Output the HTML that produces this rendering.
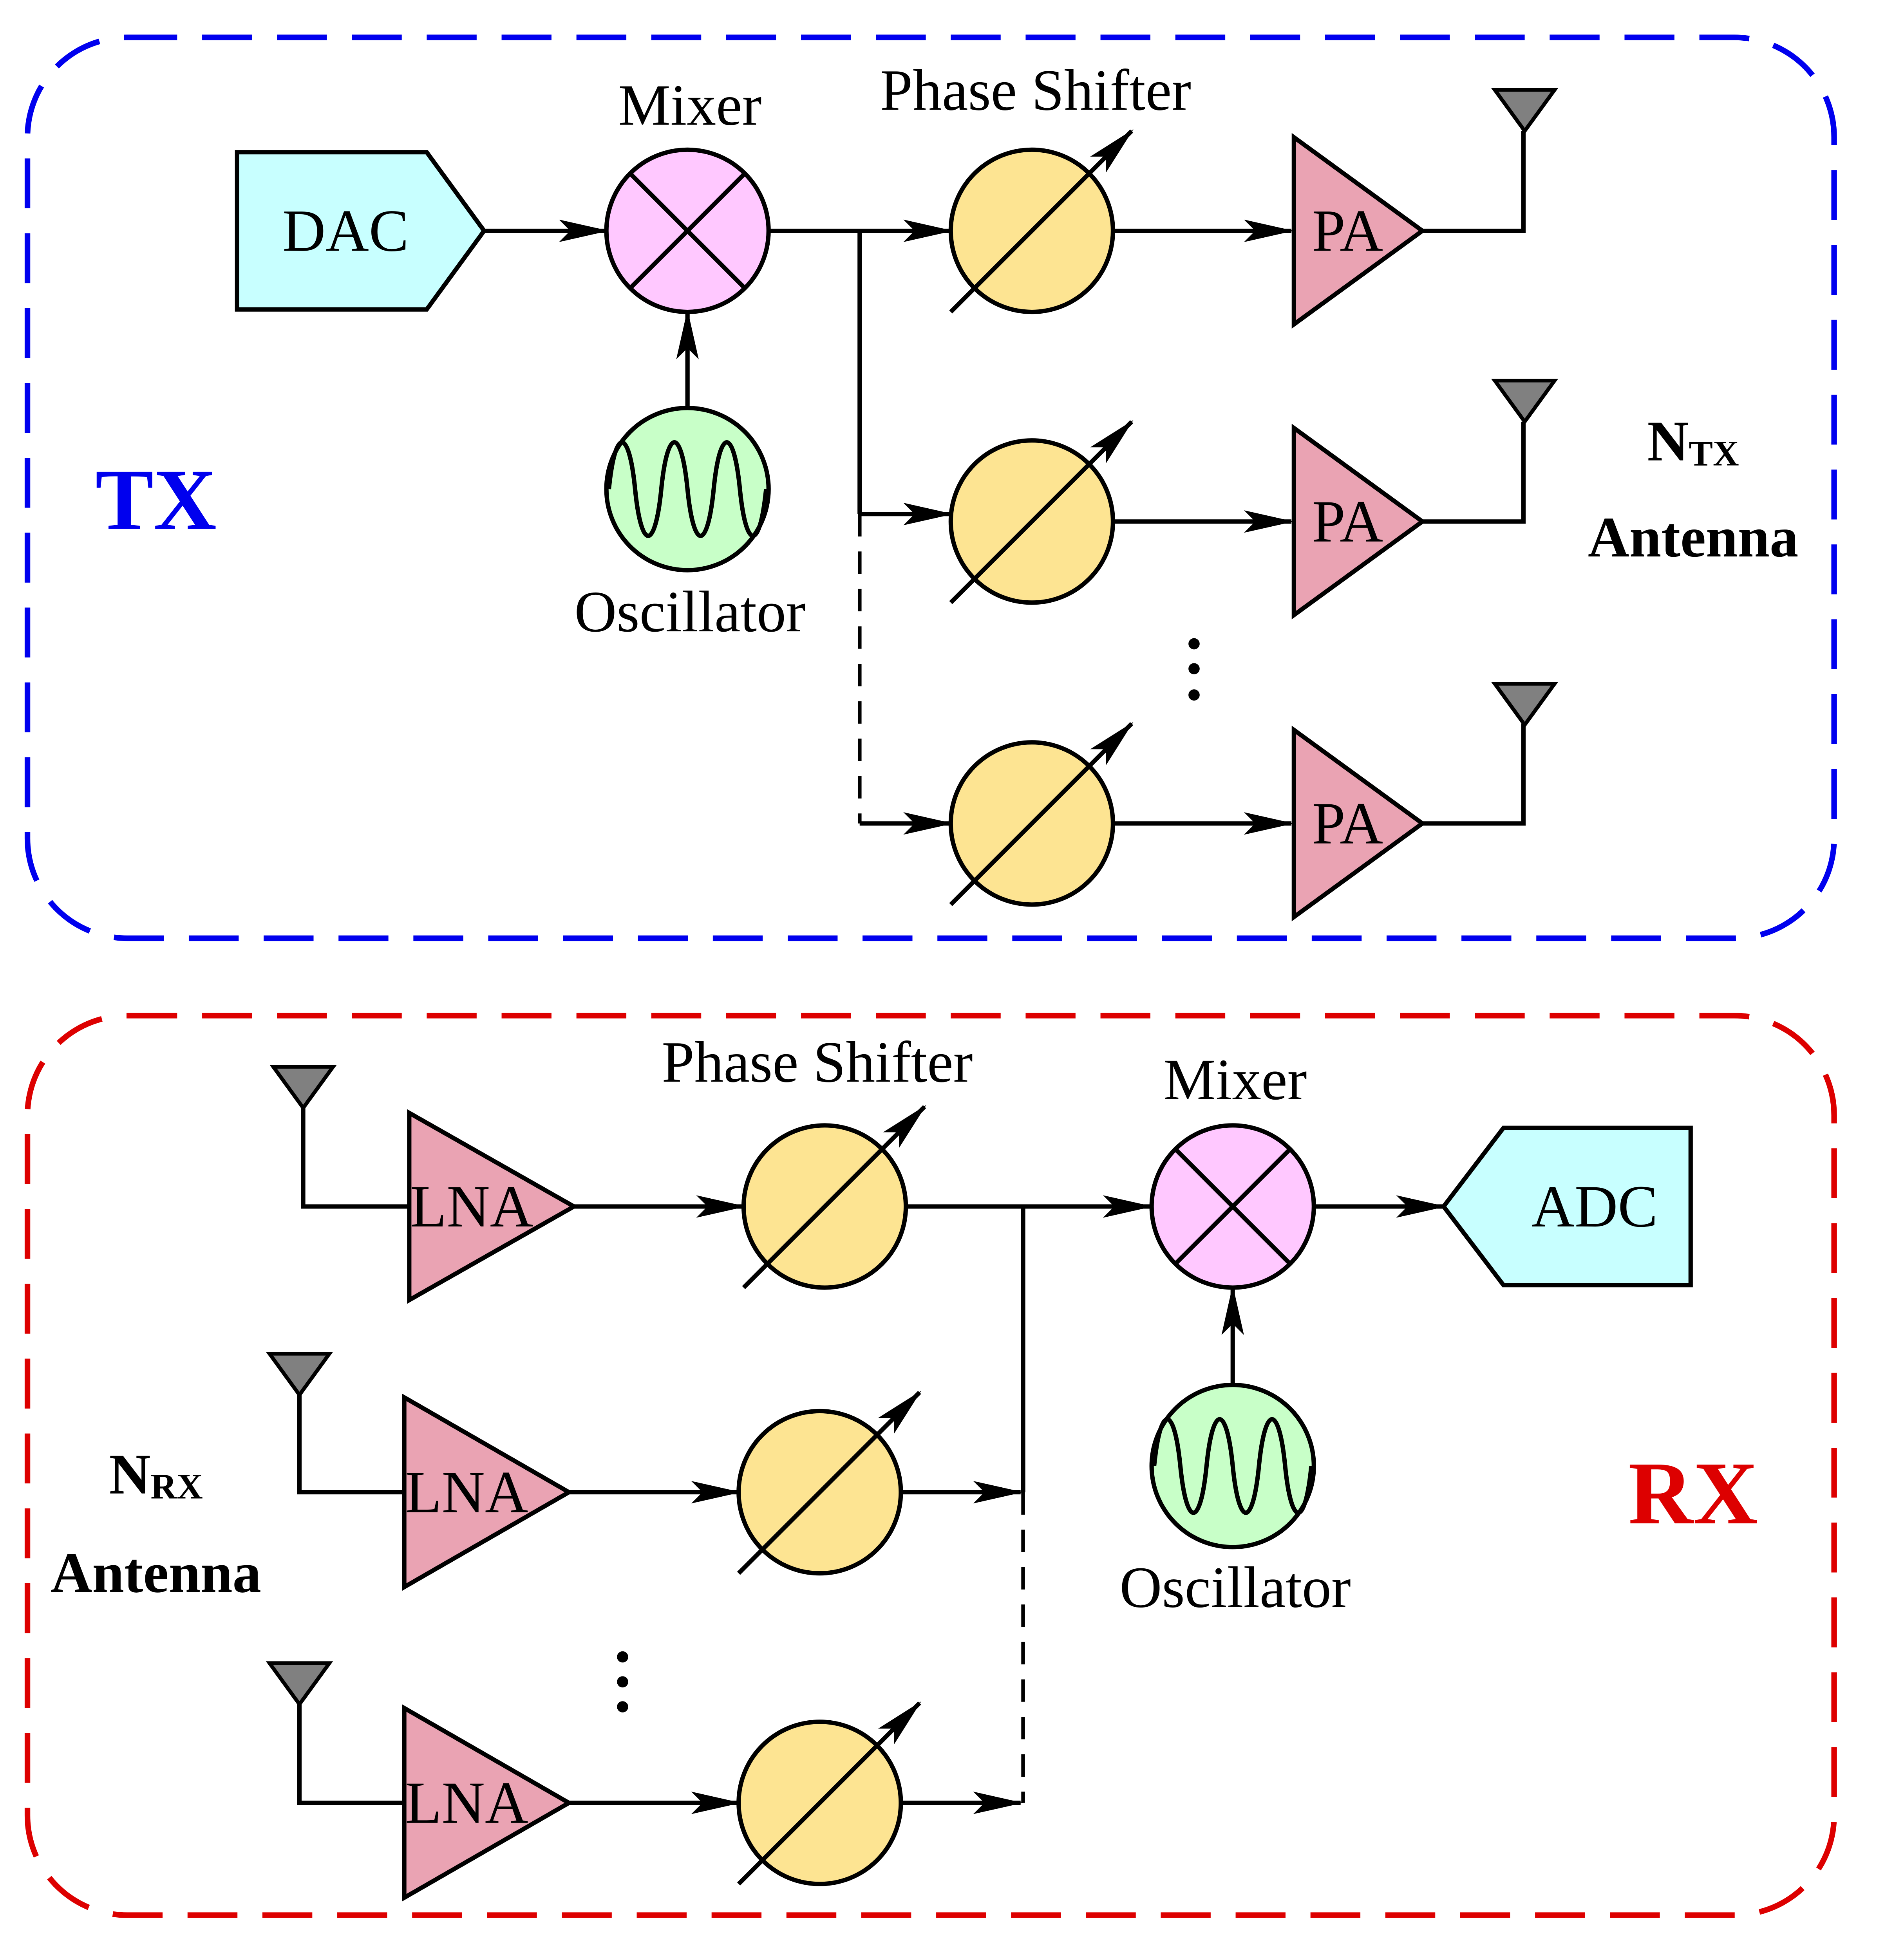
<!DOCTYPE html>
<html><head><meta charset="utf-8"><style>
html,body{margin:0;padding:0;background:#fff;overflow:hidden;width:4861px;height:5120px;}
svg{display:block;}
text{font-family:"Liberation Serif",serif;}
</style></head><body>
<svg width="4861" height="5120" viewBox="0 0 1526 1607" preserveAspectRatio="none" xmlns="http://www.w3.org/2000/svg">
<defs>
<marker id="a" viewBox="0 0 40 20" refX="38" refY="10" markerWidth="40" markerHeight="20" markerUnits="userSpaceOnUse" orient="auto">
<path d="M0,1 L40,10 L0,19 L9,10 Z" fill="#000"/>
</marker>
<g id="ps">
<circle r="65" fill="#fde492" stroke="#000" stroke-width="3.5"/>
<line x1="-65" y1="65" x2="80" y2="-80" stroke="#000" stroke-width="3.5" marker-end="url(#a)"/>
</g>
<g id="mx">
<circle r="65" fill="#ffc8ff" stroke="#000" stroke-width="3.5"/>
<line x1="-46" y1="-46" x2="46" y2="46" stroke="#000" stroke-width="3.5"/>
<line x1="-46" y1="46" x2="46" y2="-46" stroke="#000" stroke-width="3.5"/>
</g>
<g id="osc">
<circle r="65" fill="#c8ffc8" stroke="#000" stroke-width="3.5"/>
<path d="M-63,0 C-58,-50 -47,-50 -42,0 S-26,50 -21,0 S-5,-50 0,0 S16,50 21,0 S37,-50 42,0 S58,50 63,0" fill="none" stroke="#000" stroke-width="3.5"/>
</g>
</defs>

<rect x="22" y="30" width="1448" height="722" rx="80" fill="none" stroke="#0000ee" stroke-width="4.5" stroke-dasharray="40,20"/>
<rect x="22" y="814" width="1448" height="721" rx="80" fill="none" stroke="#dd0000" stroke-width="4.5" stroke-dasharray="40,20"/>

<g stroke="#000" stroke-width="3.5" fill="none">
<line x1="388" y1="185" x2="486" y2="185" marker-end="url(#a)"/>
<line x1="551" y1="327" x2="551" y2="250" marker-end="url(#a)"/>
<line x1="616" y1="185" x2="762" y2="185" marker-end="url(#a)"/>
<line x1="689" y1="185" x2="689" y2="412"/>
<line x1="689" y1="412" x2="689" y2="660" stroke-dasharray="18,12" stroke-width="3"/>
<line x1="689" y1="412" x2="762" y2="412" marker-end="url(#a)"/>
<line x1="689" y1="660" x2="762" y2="660" marker-end="url(#a)"/>
<line x1="892" y1="185" x2="1035" y2="185" marker-end="url(#a)"/>
<line x1="892" y1="418" x2="1035" y2="418" marker-end="url(#a)"/>
<line x1="892" y1="660" x2="1035" y2="660" marker-end="url(#a)"/>
<polyline points="1140,185 1221,185 1221,105"/>
<polyline points="1140,418 1221,418 1221,338"/>
<polyline points="1140,660 1221,660 1221,580"/>
<polyline points="243,888 243,967 328,967"/>
<polyline points="240,1118 240,1196 324,1196"/>
<polyline points="240,1366 240,1445 324,1445"/>
<line x1="460" y1="967" x2="596" y2="967" marker-end="url(#a)"/>
<line x1="456" y1="1196" x2="592" y2="1196" marker-end="url(#a)"/>
<line x1="456" y1="1445" x2="592" y2="1445" marker-end="url(#a)"/>
<line x1="726" y1="967" x2="922" y2="967" marker-end="url(#a)"/>
<line x1="722" y1="1196" x2="818" y2="1196" marker-end="url(#a)"/>
<line x1="722" y1="1445" x2="818" y2="1445" marker-end="url(#a)"/>
<line x1="820" y1="967" x2="820" y2="1196"/>
<line x1="820" y1="1196" x2="820" y2="1445" stroke-dasharray="18,12" stroke-width="3"/>
<line x1="1053" y1="967" x2="1157" y2="967" marker-end="url(#a)"/>
<line x1="988" y1="1110" x2="988" y2="1032" marker-end="url(#a)"/>
</g>

<polygon points="190,122 342,122 388,185 342,248 190,248" fill="#c8ffff" stroke="#000" stroke-width="3.5"/>
<text x="277" y="201" font-size="48" text-anchor="middle">DAC</text>
<use href="#mx" x="551" y="185"/>
<text x="553" y="100" font-size="47" text-anchor="middle">Mixer</text>
<use href="#osc" x="551" y="392"/>
<text x="553" y="506" font-size="47" text-anchor="middle">Oscillator</text>
<text x="830" y="88" font-size="47" text-anchor="middle">Phase Shifter</text>
<use href="#ps" x="827" y="185"/>
<use href="#ps" x="827" y="418"/>
<use href="#ps" x="827" y="660"/>
<g fill="#eaa3b3" stroke="#000" stroke-width="3.5">
<polygon points="1037,110 1037,260 1140,185"/>
<polygon points="1037,343 1037,493 1140,418"/>
<polygon points="1037,585 1037,735 1140,660"/>
</g>
<g font-size="48" text-anchor="middle">
<text x="1080" y="201">PA</text>
<text x="1080" y="434">PA</text>
<text x="1080" y="676">PA</text>
</g>
<g fill="#808080" stroke="#000" stroke-width="3">
<polygon points="1198,72 1246,72 1222,105"/>
<polygon points="1198,305 1246,305 1222,338"/>
<polygon points="1198,548 1246,548 1222,581"/>
</g>
<g fill="#000">
<circle cx="957" cy="516" r="4.5"/><circle cx="957" cy="536" r="4.5"/><circle cx="957" cy="557" r="4.5"/>
<circle cx="499" cy="1328" r="4.5"/><circle cx="499" cy="1348" r="4.5"/><circle cx="499" cy="1368" r="4.5"/>
</g>
<text x="1357" y="369" font-size="46" font-weight="bold" text-anchor="middle">N<tspan font-size="29" dy="4">TX</tspan></text>
<text x="1357" y="446" font-size="46" font-weight="bold" text-anchor="middle">Antenna</text>
<text x="125" y="424" font-size="70" font-weight="bold" fill="#0000ee" text-anchor="middle">TX</text>

<g fill="#808080" stroke="#000" stroke-width="3">
<polygon points="219,855 267,855 243,888"/>
<polygon points="216,1085 264,1085 240,1118"/>
<polygon points="216,1333 264,1333 240,1366"/>
</g>
<g fill="#eaa3b3" stroke="#000" stroke-width="3.5">
<polygon points="328,892 328,1042 460,967"/>
<polygon points="324,1120 324,1272 456,1196"/>
<polygon points="324,1369 324,1521 456,1445"/>
</g>
<g font-size="48" text-anchor="middle">
<text x="378" y="983">LNA</text>
<text x="374" y="1212">LNA</text>
<text x="374" y="1461">LNA</text>
</g>
<text x="655" y="867" font-size="47" text-anchor="middle">Phase Shifter</text>
<use href="#ps" x="661" y="967"/>
<use href="#ps" x="657" y="1196"/>
<use href="#ps" x="657" y="1445"/>
<use href="#mx" x="988" y="967"/>
<text x="990" y="881" font-size="47" text-anchor="middle">Mixer</text>
<use href="#osc" x="988" y="1175"/>
<text x="990" y="1288" font-size="47" text-anchor="middle">Oscillator</text>
<polygon points="1157,967 1205,904 1355,904 1355,1030 1205,1030" fill="#c8ffff" stroke="#000" stroke-width="3.5"/>
<text x="1278" y="983" font-size="48" text-anchor="middle">ADC</text>
<text x="125" y="1197" font-size="46" font-weight="bold" text-anchor="middle">N<tspan font-size="29" dy="4">RX</tspan></text>
<text x="125" y="1276" font-size="46" font-weight="bold" text-anchor="middle">Antenna</text>
<text x="1357" y="1221" font-size="72" font-weight="bold" fill="#dd0000" text-anchor="middle">RX</text>
</svg>
</body></html>
